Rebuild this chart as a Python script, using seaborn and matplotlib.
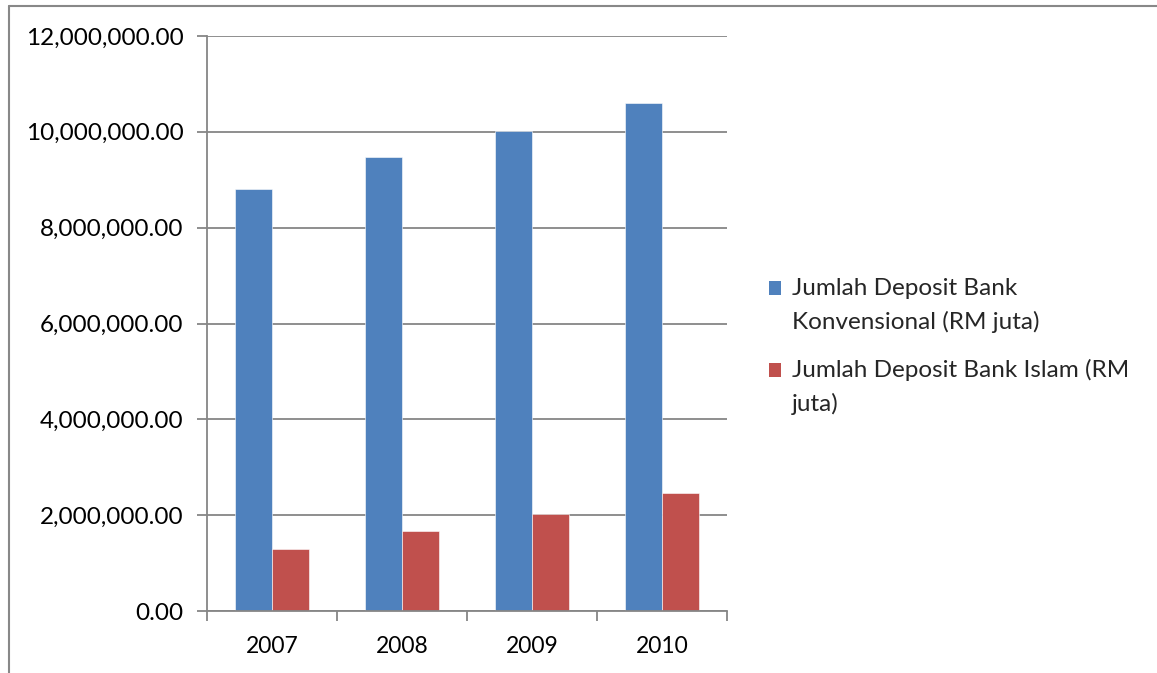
import matplotlib
matplotlib.use("Agg")
import matplotlib.pyplot as plt
import seaborn as sns
import pandas as pd
from matplotlib.lines import Line2D
from matplotlib.patches import Patch, Rectangle
from matplotlib.legend_handler import HandlerPatch
from matplotlib.ticker import FuncFormatter, FixedLocator

years = ["2007", "2008", "2009", "2010"]
konvensional = [8807000, 9475000, 10018000, 10600000]
islam = [1294000, 1670000, 2025000, 2460000]
series_names = ["Jumlah Deposit Bank\nKonvensional (RM juta)",
                "Jumlah Deposit Bank Islam (RM\njuta)"]
colors = ["#4F81BD", "#C0504D"]

sns.set_theme(style="white")
plt.rcParams['font.family'] = ['Lato', 'DejaVu Sans']

df = pd.DataFrame({
    "year": years * 2,
    "value": konvensional + islam,
    "series": [series_names[0]] * 4 + [series_names[1]] * 4,
})

W, H = 1157, 673
fig = plt.figure(figsize=(W / 100, H / 100), dpi=100)
ax = fig.add_axes([207 / W, 1 - 611 / H, (727 - 207) / W, (611 - 36) / H])

sns.barplot(data=df, x="year", y="value", hue="series", palette=colors,
            width=0.57, ax=ax, legend=False, saturation=1,
            edgecolor="white", linewidth=0.4)

ax.set_ylim(0, 12000000)
ax.set_xlim(-0.5, 3.5)
ax.set_yticks(range(0, 12000001, 2000000))
ax.yaxis.set_major_formatter(FuncFormatter(lambda v, p: f"{v:,.2f}"))
ax.grid(axis="y", color="#868686", linewidth=1.3)
ax.set_axisbelow(True)
ax.set_xlabel("")
ax.set_ylabel("")

for s in ["top", "right"]:
    ax.spines[s].set_visible(False)
for s in ["left", "bottom"]:
    ax.spines[s].set_color("#868686")
    ax.spines[s].set_linewidth(1.3)

ax.tick_params(axis="y", which="major", left=True, length=7, width=1.3,
               color="#868686", labelsize=17.5, labelcolor="black", pad=10)
ax.tick_params(axis="x", which="major", bottom=False, labelsize=16.5,
               labelcolor="black", pad=12)
ax.xaxis.set_minor_locator(FixedLocator([-0.5, 0.5, 1.5, 2.5, 3.5]))
ax.tick_params(axis="x", which="minor", bottom=True, length=7, width=1.3,
               color="#868686")


def top_square(legend, orig_handle, xdescent, ydescent, width, height, fontsize):
    return Rectangle((-xdescent, -ydescent + 0.7 * fontsize), width, height)


handles = [Patch(facecolor=c, edgecolor="none") for c in colors]
leg = fig.legend(handles, series_names, loc="upper left",
                 bbox_to_anchor=(759 / W, 1 - 268 / H), frameon=False,
                 fontsize=17.5, handlelength=0.5, handleheight=0.5,
                 handletextpad=0.45, labelspacing=1.08, borderaxespad=0,
                 handler_map={Patch: HandlerPatch(patch_func=top_square)})
for t in leg.get_texts():
    t.set_linespacing(1.65)

# outer chart border
fig.add_artist(Line2D([9 / W, 9 / W], [0, 1 - 6 / H], color="#888888",
                      linewidth=1.5, transform=fig.transFigure))
fig.add_artist(Line2D([9 / W, 1], [1 - 6 / H, 1 - 6 / H], color="#888888",
                      linewidth=1.5, transform=fig.transFigure))

fig.savefig("out.png", dpi=100, facecolor="white")
